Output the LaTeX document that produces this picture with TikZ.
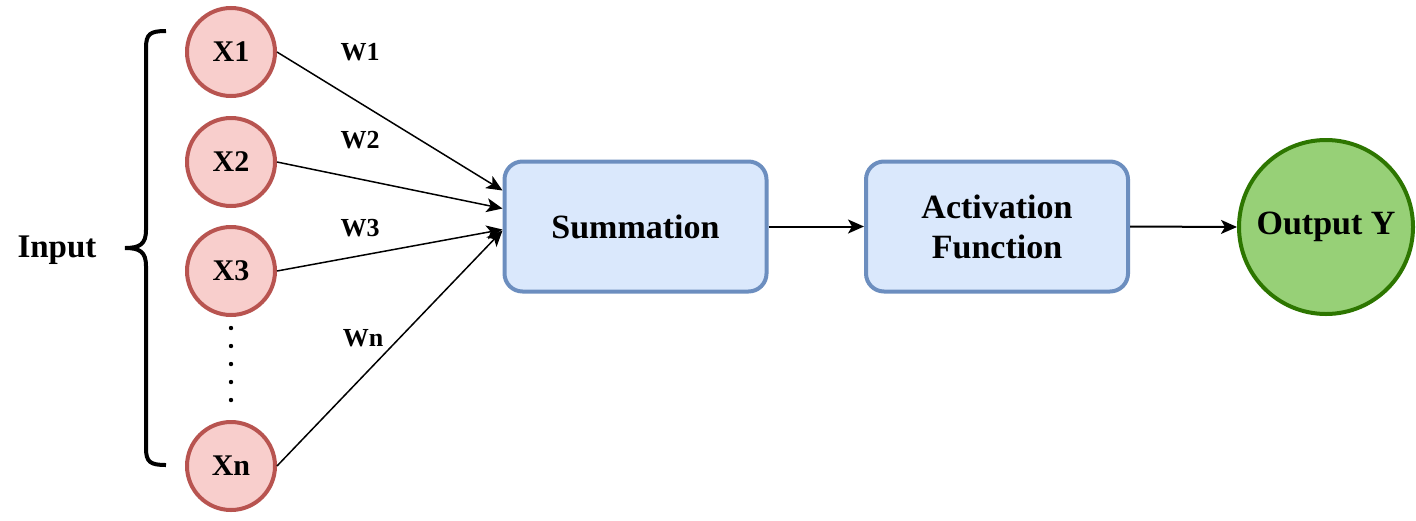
\documentclass[tikz,border=0pt]{standalone}
\usepackage{fontspec}
\setmainfont{Liberation Serif}
\usetikzlibrary{arrows.meta}
\definecolor{redfill}{HTML}{F8CECC}
\definecolor{redline}{HTML}{B85450}
\definecolor{bluefill}{HTML}{DAE8FC}
\definecolor{blueline}{HTML}{6C8EBF}
\definecolor{greenfill}{HTML}{97D077}
\definecolor{greenline}{HTML}{2D7600}
\tikzset{
  innode/.style={circle, draw=redline, fill=redfill, line width=2pt, minimum size=44pt, inner sep=0pt, font=\fontsize{15}{18}\selectfont\bfseries},
  procbox/.style={rectangle, rounded corners=9pt, draw=blueline, fill=bluefill, line width=2pt, minimum width=131pt, minimum height=65pt, align=center, font=\fontsize{17}{20}\selectfont\bfseries},
  outnode/.style={circle, draw=greenline, fill=greenfill, line width=2pt, minimum size=87pt, inner sep=0pt, font=\fontsize{17}{20}\selectfont\bfseries},
  wlabel/.style={font=\fontsize{13}{15}\selectfont\bfseries, inner sep=0pt},
  thinarrow/.style={-{Stealth[length=8pt,width=7pt,inset=2pt]}, line width=0.75pt},
  mainarrow/.style={-{Stealth[length=8pt,width=7pt,inset=2pt]}, line width=1pt},
}
\begin{document}
\begin{tikzpicture}[x=0.5pt,y=-0.5pt]
\useasboundingbox[fill=white] (0,0) rectangle (1416,520);
% input nodes
\node[innode] (x1) at (231,52) {X1};
\node[innode] (x2) at (231,162) {X2};
\node[innode] (x3) at (231,271) {X3};
\node[innode] (xn) at (231,466) {Xn};
% dots
\foreach \yy [count=\i] in {328,346,364,382,400}
  \fill (231,\yy) circle (1.1pt) coordinate (dot\i);
% brace
\coordinate (btop) at (166,31);
\coordinate (bbot) at (166,465);
\coordinate (btip) at (125,248);
\draw[line width=2pt] (btop) .. controls (150,31) and (146,34) .. (146,48)
  -- (146,230) .. controls (146,244) and (140,248) .. (btip)
  .. controls (140,248) and (146,252) .. (146,266)
  -- (146,448) .. controls (146,462) and (150,465) .. (bbot);
\node[font=\fontsize{16.5}{19}\selectfont\bfseries] (input) at (57,250) {Input};
% processing
\node[procbox] (sum) at (635.5,226.5) {Summation};
\node[procbox] (act) at (997,226.5) {Activation\\Function};
\node[outnode] (out) at (1326,227) {Output Y};
% weight arrows
\draw[thinarrow] (x1.east) -- ([yshift=18pt]sum.west);
\draw[thinarrow] (x2.east) -- ([yshift=9pt]sum.west);
\draw[thinarrow] (x3.east) -- ([yshift=-1.5pt]sum.west);
\draw[thinarrow] (xn.east) -- ([yshift=-2pt]sum.west);
\node[wlabel] (w1) at (360,52) {W1};
\node[wlabel] (w2) at (360,140) {W2};
\node[wlabel] (w3) at (360,228) {W3};
\node[wlabel] (wn) at (363,338) {Wn};
% main arrows
\draw[mainarrow] (sum.east) -- (act.west);
\draw[mainarrow] (act.east) -- (out.west);
\end{tikzpicture}
\end{document}
